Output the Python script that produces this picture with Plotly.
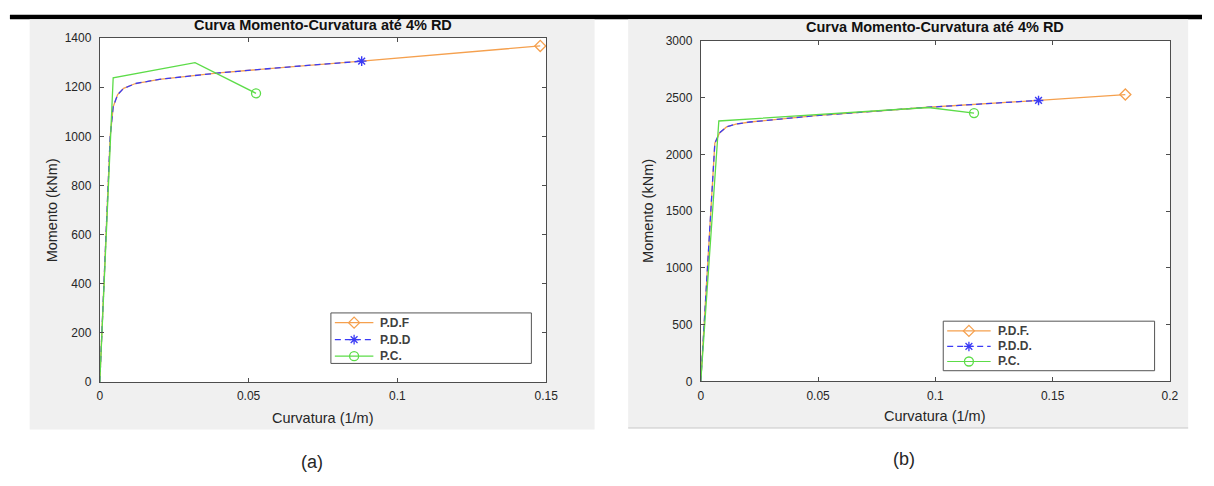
import plotly.graph_objects as go

# ---------------- data ----------------
# Panel (a)
a_pdf_x = [0, 0.0035, 0.0045, 0.006, 0.008, 0.012, 0.02, 0.04, 0.064, 0.088, 0.148]
a_pdf_y = [0, 1000, 1120, 1170, 1195, 1215, 1232, 1258, 1283, 1306, 1368]
a_pdd_x = [0, 0.0035, 0.0045, 0.006, 0.008, 0.012, 0.02, 0.04, 0.064, 0.088]
a_pdd_y = [0, 1000, 1120, 1170, 1195, 1215, 1232, 1258, 1283, 1306]
a_pc_x = [0, 0.0045, 0.032, 0.0525]
a_pc_y = [0, 1238, 1300, 1175]

# Panel (b)
b_pdf_x = [0, 0.006, 0.008, 0.011, 0.015, 0.021, 0.049, 0.097, 0.144, 0.181]
b_pdf_y = [0, 2100, 2190, 2243, 2268, 2286, 2342, 2416, 2476, 2528]
b_pdd_x = [0, 0.006, 0.008, 0.011, 0.015, 0.021, 0.049, 0.097, 0.144]
b_pdd_y = [0, 2100, 2190, 2243, 2268, 2286, 2342, 2416, 2476]
b_pc_x = [0, 0.0077, 0.097, 0.1165]
b_pc_y = [0, 2295, 2414, 2365]

a_xticks = [0, 0.05, 0.1, 0.15]
a_xtext = ["0", "0.05", "0.1", "0.15"]
a_yticks = [0, 200, 400, 600, 800, 1000, 1200, 1400]
b_xticks = [0, 0.05, 0.1, 0.15, 0.2]
b_xtext = ["0", "0.05", "0.1", "0.15", "0.2"]
b_yticks = [0, 500, 1000, 1500, 2000, 2500, 3000]

a_names = ["P.D.F", "P.D.D", "P.C."]
b_names = ["P.D.F.", "P.D.D.", "P.C."]
title_txt = "Curva Momento-Curvatura até 4% RD"
xlab = "Curvatura (1/m)"
ylab = "Momento (kNm)"

# ---------------- style ----------------
W, H = 1214, 486
ORANGE = "#F5A04E"
BLUE = "#3B3BF5"
GREEN = "#5CDC48"
FONT = "Liberation Sans, Arial, sans-serif"
TXT = "#262626"
AX = "#4d4d4d"
BLUE_DASH = "6px,4px"
MK = {"diamond": 8.5, "star": 8, "circle": 9}

def px(x):
    return x / W

def py(y):
    return 1 - y / H

# plot areas in pixels
A = dict(l=98, r=550, t=32, b=386)
B = dict(l=706.5, r=1181.5, t=35, b=385.5)

fig = go.Figure()

def add_panel(xs_list, ys_list, names, xa, ya):
    pdf_x, pdd_x, pc_x = xs_list
    pdf_y, pdd_y, pc_y = ys_list
    fig.add_trace(go.Scatter(x=pdf_x, y=pdf_y, mode="lines", line=dict(color=ORANGE, width=1.3),
                             xaxis=xa, yaxis=ya, showlegend=False, name=names[0]))
    fig.add_trace(go.Scatter(x=pdd_x, y=pdd_y, mode="lines", line=dict(color=BLUE, width=1.3, dash=BLUE_DASH),
                             xaxis=xa, yaxis=ya, showlegend=False, name=names[1]))
    fig.add_trace(go.Scatter(x=pc_x, y=pc_y, mode="lines", line=dict(color=GREEN, width=1.3),
                             xaxis=xa, yaxis=ya, showlegend=False, name=names[2]))
    fig.add_trace(go.Scatter(x=[pdf_x[-1]], y=[pdf_y[-1]], mode="markers", cliponaxis=False,
                             marker=dict(symbol="diamond-open", size=MK["diamond"], color=ORANGE,
                                         line=dict(width=1.3, color=ORANGE)),
                             xaxis=xa, yaxis=ya, showlegend=False))
    fig.add_trace(go.Scatter(x=[pdd_x[-1]], y=[pdd_y[-1]], mode="markers", cliponaxis=False,
                             marker=dict(symbol="asterisk-open", size=MK["star"], color=BLUE,
                                         line=dict(width=1.4, color=BLUE)),
                             xaxis=xa, yaxis=ya, showlegend=False))
    fig.add_trace(go.Scatter(x=[pc_x[-1]], y=[pc_y[-1]], mode="markers", cliponaxis=False,
                             marker=dict(symbol="circle-open", size=MK["circle"], color=GREEN,
                                         line=dict(width=1.3, color=GREEN)),
                             xaxis=xa, yaxis=ya, showlegend=False))

add_panel((a_pdf_x, a_pdd_x, a_pc_x), (a_pdf_y, a_pdd_y, a_pc_y), a_names, "x", "y")
add_panel((b_pdf_x, b_pdd_x, b_pc_x), (b_pdf_y, b_pdd_y, b_pc_y), b_names, "x2", "y2")

shapes = []
annotations = []

# black bar at top
shapes.append(dict(type="rect", xref="paper", yref="paper", x0=px(7), x1=px(1214), y0=py(12.5), y1=py(8),
                   fillcolor="black", line=dict(width=0), layer="below"))
# gray panels
shapes.append(dict(type="rect", xref="paper", yref="paper", x0=px(27), x1=px(599), y0=py(435), y1=py(12.5),
                   fillcolor="#f0f0f0", line=dict(width=0), layer="below"))
shapes.append(dict(type="rect", xref="paper", yref="paper", x0=px(633), x1=px(1200), y0=py(433.5), y1=py(12.5),
                   fillcolor="#f0f0f0", line=dict(width=0), layer="below"))
shapes.append(dict(type="line", xref="paper", yref="paper", x0=px(633), x1=px(1200), y0=py(433.5), y1=py(433.5),
                   line=dict(width=1, color="#c8c8c8"), layer="below"))
# white plot areas
for xa, ya in (("x", "y"), ("x2", "y2")):
    shapes.append(dict(type="rect", xref=xa + " domain", yref=ya + " domain", x0=0, x1=1, y0=0, y1=1,
                       fillcolor="white", line=dict(width=0), layer="below"))

# legends (drawn on an overlay pixel axis, above the panels' traces)
def legend(box, rows, names, text_x):
    l, r, t, b = box
    shapes.append(dict(type="rect", xref="x3", yref="y3", x0=l, x1=r, y0=t, y1=b,
                       fillcolor="white", line=dict(width=1, color="#555555"), layer="below"))
    styles = [(ORANGE, "solid", "diamond-open", MK["diamond"]), (BLUE, BLUE_DASH, "asterisk-open", MK["star"]),
              (GREEN, "solid", "circle-open", MK["circle"])]
    for (col, dash, sym, sz), yy, nm in zip(styles, rows, names):
        shapes.append(dict(type="line", xref="x3", yref="y3", x0=l + 4, x1=text_x - 5, y0=yy, y1=yy,
                           line=dict(color=col, width=1.2, dash=dash), layer="below"))
        fig.add_trace(go.Scatter(x=[(l + 4 + text_x - 5) / 2], y=[yy], mode="markers",
                                 marker=dict(symbol=sym, size=sz, color=col, line=dict(width=1.3, color=col)),
                                 xaxis="x3", yaxis="y3", showlegend=False, hoverinfo="skip"))
        annotations.append(dict(x=px(text_x), y=py(yy), xref="paper", yref="paper", text="<b>%s</b>" % nm,
                                showarrow=False, xanchor="left", yanchor="middle",
                                font=dict(family=FONT, size=12, color="#404040")))

legend((332, 535, 315, 367), (325, 342.5, 359.5), a_names, 380)
legend((952, 1166, 323.5, 374.5), (333.5, 349.5, 365), b_names, 1005)

def txt(x, y, s, size=12, bold=False, angle=0):
    annotations.append(dict(x=px(x), y=py(y), xref="paper", yref="paper", showarrow=False,
                            text=("<b>%s</b>" % s) if bold else s, textangle=angle,
                            xanchor="center", yanchor="middle",
                            font=dict(family=FONT, size=size, color=TXT if not bold else "#111111")))

txt(324, 19, title_txt, 14.5, bold=True)
txt(944, 21, title_txt, 14.5, bold=True)
txt(324, 423, xlab, 14.5)
txt(944, 421, xlab, 14.5)
txt(50, 209, ylab, 14.5, angle=-90)
txt(653, 210, ylab, 14.5, angle=-90)
txt(313, 468, "(a)", 18)
txt(912, 465, "(b)", 18)

axis_common = dict(showline=True, linecolor=AX, linewidth=1, mirror="ticks", ticks="inside",
                   ticklen=4, tickcolor=AX, tickwidth=1, showgrid=False, zeroline=False,
                   tickfont=dict(family=FONT, size=12, color=TXT), fixedrange=True)

fig.update_layout(
    width=W, height=H,
    margin=dict(l=0, r=0, t=0, b=0),
    paper_bgcolor="white",
    plot_bgcolor="rgba(0,0,0,0)",
    showlegend=False,
    xaxis=dict(domain=[px(A["l"]), px(A["r"])], range=[0, 0.15], tickvals=a_xticks,
               ticktext=a_xtext, anchor="y", ticklabelstandoff=3, **axis_common),
    yaxis=dict(domain=[py(A["b"]), py(A["t"])], range=[0, 1400], tickvals=a_yticks, anchor="x",
               ticklabelstandoff=5, **axis_common),
    xaxis2=dict(domain=[px(B["l"]), px(B["r"])], range=[0, 0.2], tickvals=b_xticks,
                ticktext=b_xtext, anchor="y2", ticklabelstandoff=3, **axis_common),
    yaxis2=dict(domain=[py(B["b"]), py(B["t"])], range=[0, 3000], tickvals=b_yticks, anchor="x2",
                ticklabelstandoff=5, **axis_common),
    xaxis3=dict(domain=[0, 1], range=[0, W], visible=False, fixedrange=True, anchor="y3"),
    yaxis3=dict(domain=[0, 1], range=[H, 0], visible=False, fixedrange=True, anchor="x3"),
    shapes=shapes,
    annotations=annotations,
)

fig.write_html("out.html")
